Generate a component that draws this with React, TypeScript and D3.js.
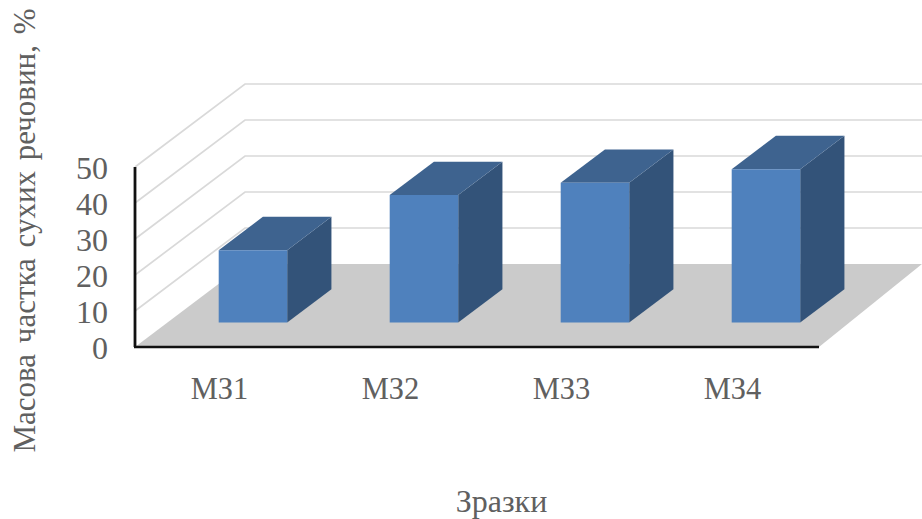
import React from "react";
import * as d3 from "d3";

const categories = ["МЗ1", "МЗ2", "МЗ3", "МЗ4"];
const values = [20.1, 35.4, 38.8, 42.6];
const ticks = [0, 10, 20, 30, 40, 50];
const yTitle = "Масова частка сухих речовин, %";
const xTitle = "Зразки";

const W = 922;
const H = 519;
const FONT = "'Liberation Serif', serif";
const TEXT = "#606060";

// Oblique projection: a point at depth d (0 front, 1 back) shifts right and up.
const DEPTH_X = 110;
const DEPTH_Y = 83;
const X0 = 135;
const X1 = 819;
const Y0 = 347;
const Y50 = 167;
const BAR_FRONT = 0.295;
const BAR_BACK = 0.697;

const x = d3.scaleBand<string>().domain(categories).range([X0, X1]);
const y = d3.scaleLinear().domain([0, 50]).range([Y0, Y50]);

const pt = (px: number, py: number, d: number): [number, number] => [
  px + DEPTH_X * d,
  py - DEPTH_Y * d,
];
const poly = (pts: [number, number][]) => d3.line()(pts)! + "Z";

export default function App() {
  const barW = 68.5;
  return (
    <svg
      width={W}
      height={H}
      viewBox={`0 0 ${W} ${H}`}
      style={{ position: "absolute", left: 0, top: 0, background: "#fff" }}
    >
      {/* floor */}
      <path
        d={poly([pt(X0, Y0, 0), pt(X0, Y0, 1), [922, Y0 - DEPTH_Y], pt(X1, Y0, 0)])}
        fill="#cbcbcb"
      />
      {/* gridlines on the side and back walls */}
      {ticks.slice(1).map((t) => (
        <path
          key={t}
          d={d3.line()([pt(X0, y(t), 0), pt(X0, y(t), 1), [922, y(t) - DEPTH_Y]])!}
          fill="none"
          stroke="#d9d9d9"
          strokeWidth={1.7}
        />
      ))}
      {/* axes */}
      <path d={`M${X0},${Y50}V${Y0}`} stroke="#111" strokeWidth={2.8} fill="none" />
      <path d={`M${X0 - 1},${Y0}H${X1}`} stroke="#111" strokeWidth={2.4} fill="none" />
      {/* bars */}
      {categories.map((c, i) => {
        const cx = x(c)! + x.bandwidth() / 2;
        const l = cx - barW / 2;
        const r = cx + barW / 2;
        const top = y(values[i]);
        const a = (px: number, py: number) => pt(px, py, BAR_FRONT);
        const b = (px: number, py: number) => pt(px, py, BAR_BACK);
        return (
          <g key={c}>
            <path d={poly([a(r, Y0), b(r, Y0), b(r, top), a(r, top)])} fill="#335379" />
            <path d={poly([a(l, top), a(r, top), b(r, top), b(l, top)])} fill="#3e638f" />
            <path d={poly([a(l, Y0), a(r, Y0), a(r, top), a(l, top)])} fill="#4f81bd" />
          </g>
        );
      })}
      {/* value axis labels */}
      {ticks.map((t) => (
        <text
          key={t}
          x={108}
          y={y(t) + 11.5}
          textAnchor="end"
          fontFamily={FONT}
          fontSize={32}
          fill={TEXT}
        >
          {t}
        </text>
      ))}
      {/* category labels */}
      {categories.map((c) => (
        <text
          key={c}
          x={x(c)! + x.bandwidth() / 2 - 1}
          y={399}
          textAnchor="middle"
          fontFamily={FONT}
          fontSize={30.5}
          fill={TEXT}
        >
          {c}
        </text>
      ))}
      <text
        x={501.5}
        y={512}
        textAnchor="middle"
        fontFamily={FONT}
        fontSize={32}
        fill={TEXT}
      >
        {xTitle}
      </text>
      <text
        transform="translate(35,230.5) rotate(-90)"
        textAnchor="middle"
        fontFamily={FONT}
        fontSize={31}
        wordSpacing={3}
        fill={TEXT}
      >
        {yTitle}
      </text>
    </svg>
  );
}
